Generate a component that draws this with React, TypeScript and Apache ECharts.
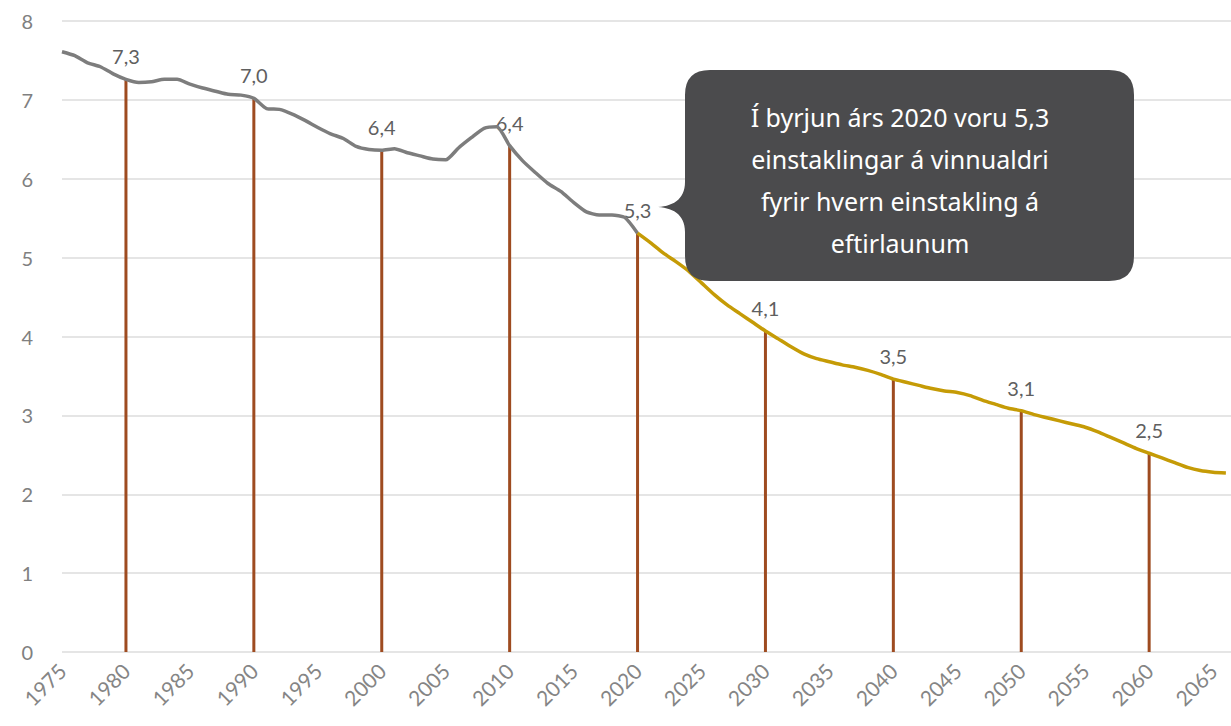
import React, { useEffect, useRef } from "react";
import * as echarts from "echarts";

const grayYears: number[] = Array.from({ length: 46 }, (_, i) => 1975 + i);
const grayValues: number[] = [
  7.61, 7.56, 7.47, 7.42, 7.33, 7.26, 7.22, 7.23, 7.26, 7.26,
  7.2, 7.15, 7.11, 7.07, 7.06, 7.02, 6.89, 6.88, 6.82, 6.74,
  6.65, 6.57, 6.51, 6.41, 6.37, 6.36, 6.38, 6.33, 6.29, 6.25,
  6.24, 6.39, 6.52, 6.64, 6.66, 6.42, 6.23, 6.08, 5.94, 5.84,
  5.7, 5.58, 5.54, 5.54, 5.51, 5.31,
];
const goldYears: number[] = Array.from({ length: 47 }, (_, i) => 2020 + i);
const goldValues: number[] = [
  5.31, 5.19, 5.06, 4.95, 4.83, 4.68, 4.53, 4.4, 4.29, 4.18,
  4.07, 3.97, 3.87, 3.78, 3.72, 3.68, 3.64, 3.61, 3.57, 3.52,
  3.46, 3.42, 3.38, 3.34, 3.31, 3.29, 3.25, 3.19, 3.14, 3.09,
  3.06, 3.01, 2.97, 2.93, 2.89, 2.85, 2.79, 2.72, 2.65, 2.58,
  2.52, 2.46, 2.4, 2.34, 2.3, 2.28, 2.27,
];
const barYears: number[] = [1980, 1990, 2000, 2010, 2020, 2030, 2040, 2050, 2060];
const yTicks: number[] = [0, 1, 2, 3, 4, 5, 6, 7, 8];
const calloutLines: string[] = [
  "Í byrjun árs 2020 voru 5,3",
  "einstaklingar á vinnualdri",
  "fyrir hvern einstakling á",
  "eftirlaunum",
];

const calloutPath =
  "M 710 70 H 1109 Q 1134 70 1134 95 V 256 Q 1134 281 1109 281 H 710 Q 685 281 685 256 V 232 C 685 214 672 207 655 207 C 672 207 685 200 685 182 V 95 Q 685 70 710 70 Z";

let registered = false;

export default function App() {
  const ref = useRef<HTMLDivElement>(null);
  useEffect(() => {
    if (!ref.current) return;
    if (!registered) {
      echarts.graphic.registerShape("callout", echarts.graphic.extendPath(calloutPath, {}));
      registered = true;
    }
    const chart = echarts.init(ref.current, null, { renderer: "svg" });
    const lookup = (yr: number): number => {
      const gi = grayYears.indexOf(yr);
      if (gi >= 0) return grayValues[gi];
      return goldValues[goldYears.indexOf(yr)];
    };
    const axisFont = "Lato";
    chart.setOption({
      animation: false,
      backgroundColor: "#ffffff",
      grid: { left: 62, right: 0, top: 21, bottom: 74, containLabel: false },
      xAxis: {
        type: "value",
        min: 1975,
        max: 2066.4,
        interval: 5,
        axisLine: { show: false },
        axisTick: { show: false },
        splitLine: { show: false },
        axisLabel: {
          rotate: 45,
          margin: 15,
          color: "#858585",
          fontFamily: axisFont,
          fontSize: 21,
          showMaxLabel: false,
          formatter: (v: number) => (Math.abs(v % 5) < 1e-6 ? String(Math.round(v)) : ""),
        },
      },
      yAxis: {
        type: "value",
        min: yTicks[0],
        max: yTicks[yTicks.length - 1],
        interval: 1,
        axisLine: { show: false },
        axisTick: { show: false },
        splitLine: { lineStyle: { color: "#dcdcdc", width: 1.5 } },
        axisLabel: {
          margin: 29,
          color: "#808080",
          fontFamily: axisFont,
          fontSize: 20,
        },
      },
      series: [
        {
          type: "bar",
          barWidth: 3,
          z: 1,
          itemStyle: { color: "#9e4b20" },
          data: barYears.map((y) => [y, lookup(y)]),
          label: {
            show: true,
            position: "top",
            distance: 13,
            color: "#5f5f5f",
            fontFamily: axisFont,
            fontSize: 20,
            formatter: (p: any) => p.value[1].toFixed(1).replace(".", ","),
          },
        },
        {
          type: "line",
          z: 3,
          showSymbol: false,
          smooth: 0.2,
          lineStyle: { color: "#7d7d7d", width: 3.5 },
          data: grayYears.map((y, i) => [y, grayValues[i]]),
        },
        {
          type: "line",
          z: 3,
          showSymbol: false,
          smooth: 0.2,
          lineStyle: { color: "#c59b06", width: 3.5 },
          data: goldYears.map((y, i) => [y, goldValues[i]]),
        },
      ],
      graphic: [
        {
          type: "callout",
          x: 0,
          y: 0,
          z: 10,
          style: { fill: "#4b4b4d" },
        },
        {
          type: "text",
          z: 11,
          style: {
            text: calloutLines.join("\n"),
            x: 900,
            y: 180,
            align: "center",
            verticalAlign: "middle",
            fill: "#ffffff",
            font: '25px "Noto Sans"',
            lineHeight: 42,
          },
        },
      ],
    });
    return () => chart.dispose();
  }, []);
  return (
    <div
      ref={ref}
      style={{ position: "fixed", left: 0, top: 0, width: 1231, height: 726 }}
    />
  );
}
